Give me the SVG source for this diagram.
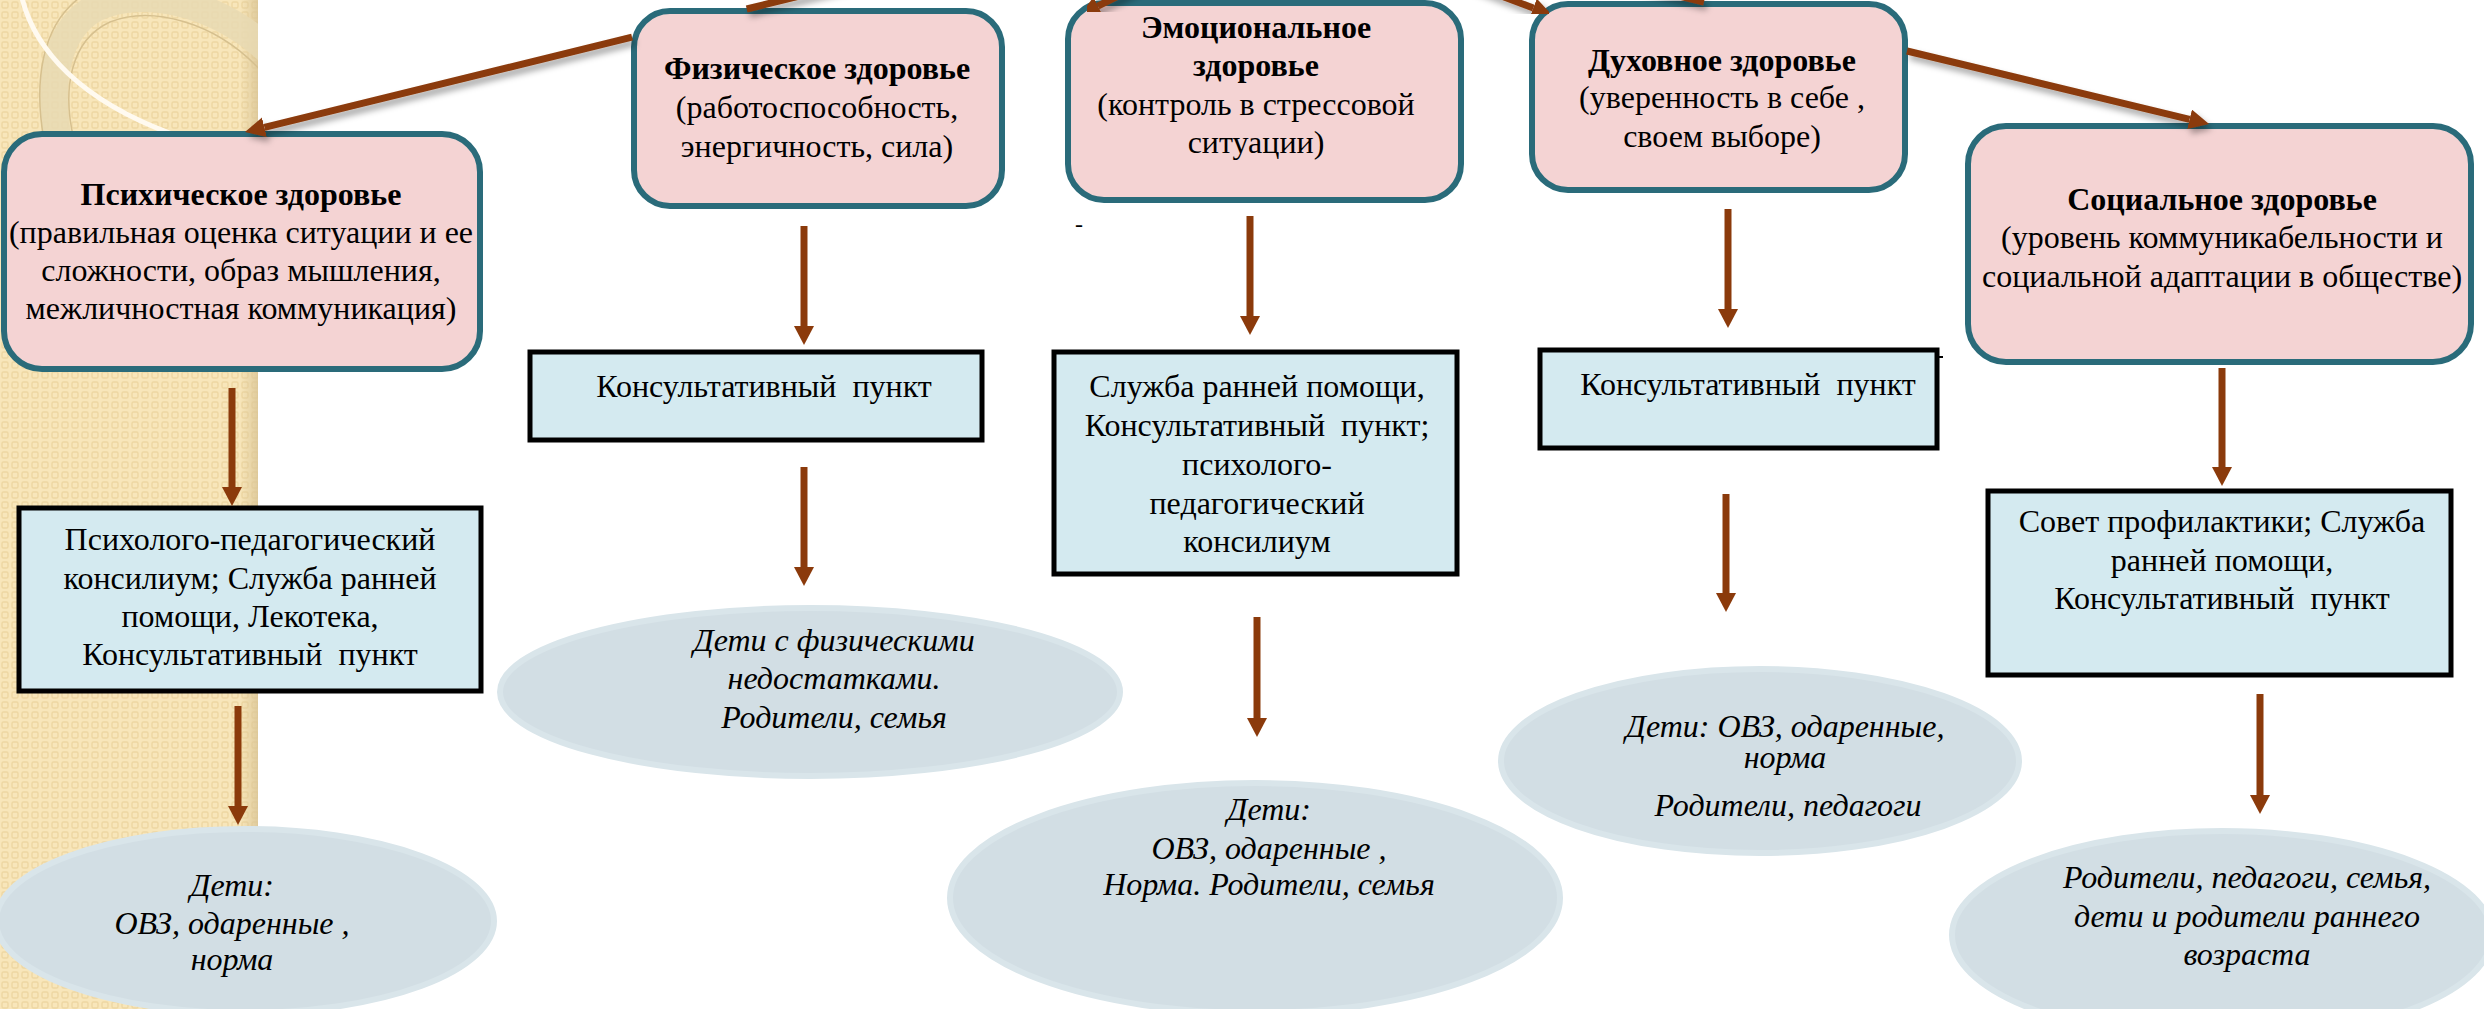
<svg xmlns="http://www.w3.org/2000/svg" width="2484" height="1009" viewBox="0 0 2484 1009">
<style>
.pink{fill:#f4d3d3;stroke:#2a6b7a;stroke-width:6}
.blue{fill:#d4eaf0;stroke:#000;stroke-width:5}
.ell{fill:#d2dee4;stroke:#d9e5ea;stroke-width:6}
.t{font-family:"Liberation Serif","Times New Roman",serif;font-size:32px;fill:#000;text-anchor:middle;white-space:pre}
.b{font-weight:bold}
.i{font-style:italic}
.arr{stroke:#8b3a0b;stroke-width:7;fill:none}
.diag{stroke:#8b3a0b;stroke-width:7;fill:none}
</style>
<defs>
<pattern id="chk" width="10" height="10" patternUnits="userSpaceOnUse">
<rect width="10" height="10" fill="#f8e6ba"/>
<rect x="2" y="2" width="6" height="6" rx="1.5" fill="none" stroke="#eed7a2" stroke-width="1.4"/>
</pattern>
<linearGradient id="edge" x1="0" y1="0" x2="1" y2="0">
<stop offset="0" stop-color="#d9c495" stop-opacity="0"/>
<stop offset="1" stop-color="#d9c495" stop-opacity="0.8"/>
</linearGradient>
<clipPath id="strip"><rect x="0" y="0" width="258" height="1009"/></clipPath>
<marker id="hv" markerUnits="userSpaceOnUse" markerWidth="22" markerHeight="22" refX="0" refY="10" orient="auto">
<path d="M0,0 L19,10 L0,20 z" fill="#8b3a0b"/>
</marker>
<marker id="hd" markerUnits="userSpaceOnUse" markerWidth="22" markerHeight="22" refX="0" refY="10" orient="auto">
<path d="M0,0 L20,10 L0,20 z" fill="#8b3a0b"/>
</marker>
<filter id="sh" x="-20%" y="-20%" width="140%" height="140%">
<feDropShadow dx="3" dy="5" stdDeviation="3" flood-color="#000" flood-opacity="0.35"/>
</filter>
</defs>

<g id="background">
<rect x="0" y="0" width="2484" height="1009" fill="#fff"/>
<rect x="0" y="0" width="258" height="1009" fill="url(#chk)"/>
<rect x="240" y="0" width="18" height="1009" fill="url(#edge)"/>
<g clip-path="url(#strip)">
<path d="M58 140 C48 85,55 30,95 8 C140 -14,215 0,270 52" fill="none" stroke="#e8d9b3" stroke-opacity="0.85" stroke-width="28"/>
<path d="M74 140 C62 90,70 40,110 22 C150 6,215 20,262 72" fill="none" stroke="#d6c08f" stroke-width="1.5"/>
<path d="M44 140 C34 85,40 25,82 -4" fill="none" stroke="#d6c08f" stroke-width="1.5"/>
<path d="M22 -2 C35 50,80 100,172 134" fill="none" stroke="#fffaf0" stroke-width="5"/>
</g>
</g>

<g id="psych">
<rect class="pink" x="4" y="134" width="476" height="235" rx="38"/>
<text class="t b" x="241" y="205">Психическое здоровье</text>
<text class="t" x="241" y="243">(правильная оценка ситуации и ее</text>
<text class="t" x="241" y="281">сложности, образ мышления,</text>
<text class="t" x="241" y="319">межличностная коммуникация)</text>
</g>
<g id="phys">
<rect class="pink" x="634" y="11" width="368" height="195" rx="36"/>
<text class="t b" x="817" y="79">Физическое здоровье</text>
<text class="t" x="817" y="118">(работоспособность,</text>
<text class="t" x="817" y="157">энергичность, сила)</text>
</g>
<g id="emo">
<rect class="pink" x="1068" y="3" width="393" height="197" rx="36"/>
<text class="t b" x="1256" y="38">Эмоциональное</text>
<text class="t b" x="1256" y="76">здоровье</text>
<text class="t" x="1256" y="115">(контроль в стрессовой</text>
<text class="t" x="1256" y="153">ситуации)</text>
</g>
<g id="spirit">
<rect class="pink" x="1532" y="4" width="373" height="186" rx="36"/>
<text class="t b" x="1722" y="71">Духовное здоровье</text>
<text class="t" x="1722" y="108">(уверенность в себе ,</text>
<text class="t" x="1722" y="147">своем выборе)</text>
</g>
<g id="social">
<rect class="pink" x="1968" y="126" width="503" height="236" rx="38"/>
<text class="t b" x="2222" y="210">Социальное здоровье</text>
<text class="t" x="2222" y="248">(уровень коммуникабельности и</text>
<text class="t" x="2222" y="287">социальной адаптации в обществе)</text>
</g>

<g id="svc-psych">
<rect class="blue" x="19" y="508" width="462" height="183"/>
<text class="t" x="250" y="550">Психолого-педагогический</text>
<text class="t" x="250" y="589">консилиум; Служба ранней</text>
<text class="t" x="250" y="627">помощи, Лекотека,</text>
<text class="t" x="250" y="665">Консультативный  пункт</text>
</g>
<g id="svc-phys">
<rect class="blue" x="530" y="352" width="452" height="88"/>
<text class="t" x="764" y="397">Консультативный  пункт</text>
</g>
<g id="svc-emo">
<rect class="blue" x="1054" y="352" width="403" height="222"/>
<text class="t" x="1257" y="397">Служба ранней помощи,</text>
<text class="t" x="1257" y="436">Консультативный  пункт;</text>
<text class="t" x="1257" y="475">психолого-</text>
<text class="t" x="1257" y="514">педагогический</text>
<text class="t" x="1257" y="552">консилиум</text>
</g>
<g id="svc-spirit">
<rect class="blue" x="1540" y="350" width="397" height="98"/>
<line x1="1937" y1="357" x2="1943" y2="357" stroke="#000" stroke-width="2"/>
<text class="t" x="1748" y="395">Консультативный  пункт</text>
</g>
<g id="svc-social">
<rect class="blue" x="1988" y="491" width="463" height="184"/>
<text class="t" x="2222" y="532">Совет профилактики; Служба</text>
<text class="t" x="2222" y="571">ранней помощи,</text>
<text class="t" x="2222" y="609">Консультативный  пункт</text>
</g>

<g id="tgt-psych">
<ellipse class="ell" cx="245" cy="921" rx="249" ry="92"/>
<text class="t i" x="232" y="896">Дети:</text>
<text class="t i" x="232" y="934">ОВЗ, одаренные ,</text>
<text class="t i" x="232" y="970">норма</text>
</g>
<g id="tgt-phys">
<ellipse class="ell" cx="810" cy="692" rx="310" ry="84"/>
<text class="t i" x="834" y="651">Дети с физическими</text>
<text class="t i" x="834" y="689">недостатками.</text>
<text class="t i" x="834" y="728">Родители, семья</text>
</g>
<g id="tgt-emo">
<ellipse class="ell" cx="1255" cy="898" rx="305" ry="115"/>
<text class="t i" x="1269" y="820">Дети:</text>
<text class="t i" x="1269" y="859">ОВЗ, одаренные ,</text>
<text class="t i" x="1269" y="895">Норма. Родители, семья</text>
</g>
<g id="tgt-spirit">
<ellipse class="ell" cx="1760" cy="761" rx="259" ry="92"/>
<text class="t i" x="1785" y="737">Дети: ОВЗ, одаренные,</text>
<text class="t i" x="1785" y="768">норма</text>
<text class="t i" x="1788" y="816">Родители, педагоги</text>
</g>
<g id="tgt-social">
<ellipse class="ell" cx="2222" cy="935" rx="270" ry="104"/>
<text class="t i" x="2247" y="888">Родители, педагоги, семья,</text>
<text class="t i" x="2247" y="927">дети и родители раннего</text>
<text class="t i" x="2247" y="965">возраста</text>
</g>

<g id="connectors">
<path class="diag" d="M865,-20 L746.7,9 M632,37.2 L264.4,127.3" marker-end="url(#hd)" filter="url(#sh)"/>
<path class="diag" d="M1150,-20 L1097.9,6.1" marker-end="url(#hd)" filter="url(#sh)"/>
<path class="diag" d="M1459,-20 L1533.3,8" marker-end="url(#hd)" filter="url(#sh)"/>
<path class="diag" d="M1613,-20 L1704,2 M1907,51 L2189.6,119.3" marker-end="url(#hd)" filter="url(#sh)"/>
<path class="arr" d="M232,388 V487" marker-end="url(#hv)"/>
<path class="arr" d="M238,706 V806" marker-end="url(#hv)"/>
<path class="arr" d="M804,226 V326" marker-end="url(#hv)"/>
<path class="arr" d="M804,467 V567" marker-end="url(#hv)"/>
<path class="arr" d="M1250,216 V316" marker-end="url(#hv)"/>
<path class="arr" d="M1257,617 V718" marker-end="url(#hv)"/>
<path class="arr" d="M1728,209 V309" marker-end="url(#hv)"/>
<path class="arr" d="M1726,494 V593" marker-end="url(#hv)"/>
<path class="arr" d="M2222,368 V467" marker-end="url(#hv)"/>
<path class="arr" d="M2260,694 V795" marker-end="url(#hv)"/>
</g>

<g id="marks">
<text class="t" x="1079" y="232" style="font-size:24px">-</text>
</g>
</svg>
